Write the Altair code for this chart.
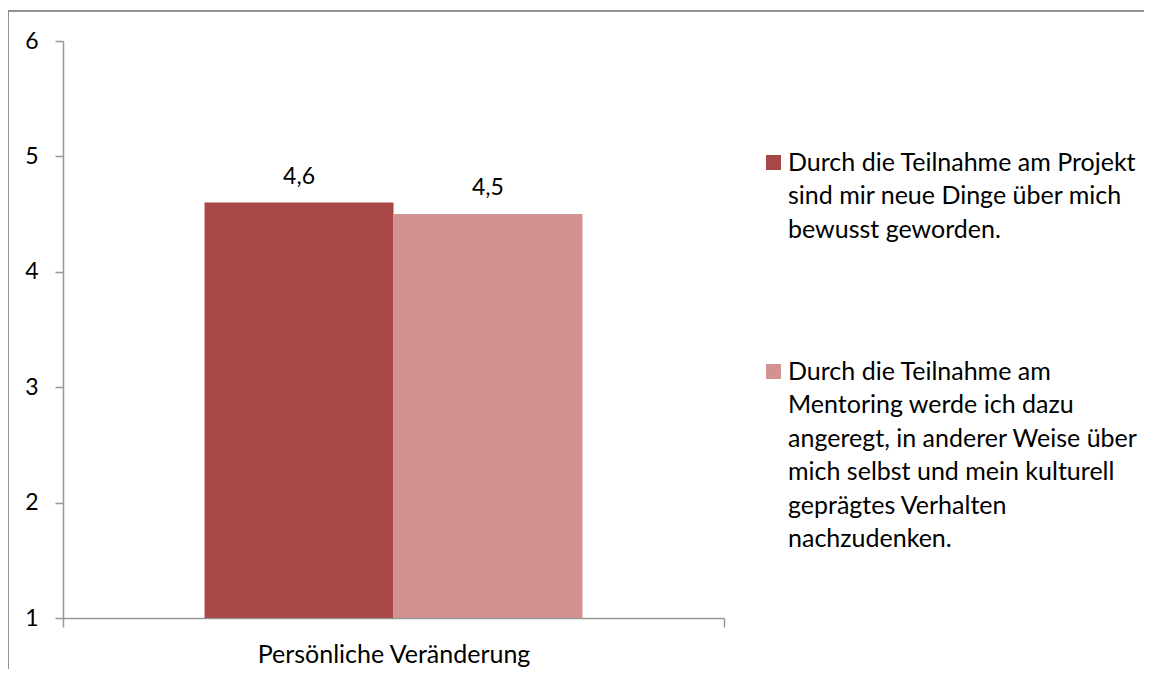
import altair as alt
import pandas as pd

CATEGORY = ["Persönliche Veränderung"]
LEGEND_LINES = [
    ["Durch die Teilnahme am Projekt", "sind mir neue Dinge über mich", "bewusst geworden."],
    ["Durch die Teilnahme am", "Mentoring werde ich dazu", "angeregt, in anderer Weise über",
     "mich selbst und mein kulturell", "geprägtes Verhalten", "nachzudenken."],
]
SERIES = ["\n".join(l) for l in LEGEND_LINES]
VALUES = [4.6, 4.5]
COLORS = ["#A84846", "#D39292"]
Y_TICKS = [1, 2, 3, 4, 5, 6]

df = pd.DataFrame({
    "cat": [CATEGORY[0]] * len(SERIES),
    "series": SERIES,
    "value": VALUES,
    "label": [f"{v:.1f}".replace(".", ",") for v in VALUES],
})

FONT = "Lato"
FS = 25
FSN = 23
AX = "#969696"

x = alt.X("cat:N", title=None,
          scale=alt.Scale(paddingInner=0, paddingOuter=0),
          axis=alt.Axis(labelAngle=0, tickBand="extent", tickSize=9, tickWidth=1.5,
                        tickColor=AX, domainColor=AX, domainWidth=1.5,
                        labelFont=FONT, labelFontSize=FS, labelColor="#000000",
                        labelPadding=15, labelLimit=1000))
xo = alt.XOffset("series:N", sort=SERIES,
                 scale=alt.Scale(paddingInner=0, paddingOuter=0.749))
y = alt.Y("value:Q", title=None,
          scale=alt.Scale(domain=[1, 6], zero=False, nice=False),
          axis=alt.Axis(values=Y_TICKS, grid=False, tickSize=8, tickWidth=1.5,
                        tickColor=AX, domainColor=AX, domainWidth=1.5,
                        labelFont=FONT, labelFontSize=FSN, labelColor="#000000",
                        labelPadding=17, format="d"))

color = alt.Color("series:N", sort=SERIES,
                  scale=alt.Scale(domain=SERIES, range=COLORS),
                  legend=alt.Legend(title=None, orient="none", legendX=698, legendY=109,
                                    symbolType="square", symbolSize=225,
                                    symbolStrokeWidth=0,
                                    labelFont=FONT, labelFontSize=FS, labelColor="#000000",
                                    labelLimit=1000, labelOffset=2,
                                    labelBaseline="middle",
                                    labelExpr="split(datum.label, '\\n')",
                                    rowPadding=116))

bars = alt.Chart(df).mark_bar(clip=False).encode(
    x=x, xOffset=xo, y=y, y2=alt.datum(1), color=color
)
texts = alt.Chart(df).mark_text(font=FONT, fontSize=FSN, color="#000000",
                                baseline="alphabetic", dy=-19).encode(
    x=x, xOffset=xo, y=y, text="label:N"
)
frame_top = alt.Chart(df).mark_rule(color="#8c8c8c", strokeWidth=1.5).encode(
    x=alt.value(-55), x2=alt.value(1100), y=alt.value(-30)
)
frame_left = alt.Chart(df).mark_rule(color="#8c8c8c", strokeWidth=1.5).encode(
    x=alt.value(-55), y=alt.value(-30), y2=alt.value(640)
)

chart = alt.layer(frame_top, frame_left, bars, texts).properties(
    width=661, height=577,
    autosize=alt.AutoSizeParams(type="none"),
    padding={"left": 55, "top": 33, "right": 420, "bottom": 51},
).configure(
    style={"guide-label": {"lineHeight": 33.5}}
).configure_view(stroke=None)

chart.save("out.html", embed_options={"renderer": "svg", "actions": False})
